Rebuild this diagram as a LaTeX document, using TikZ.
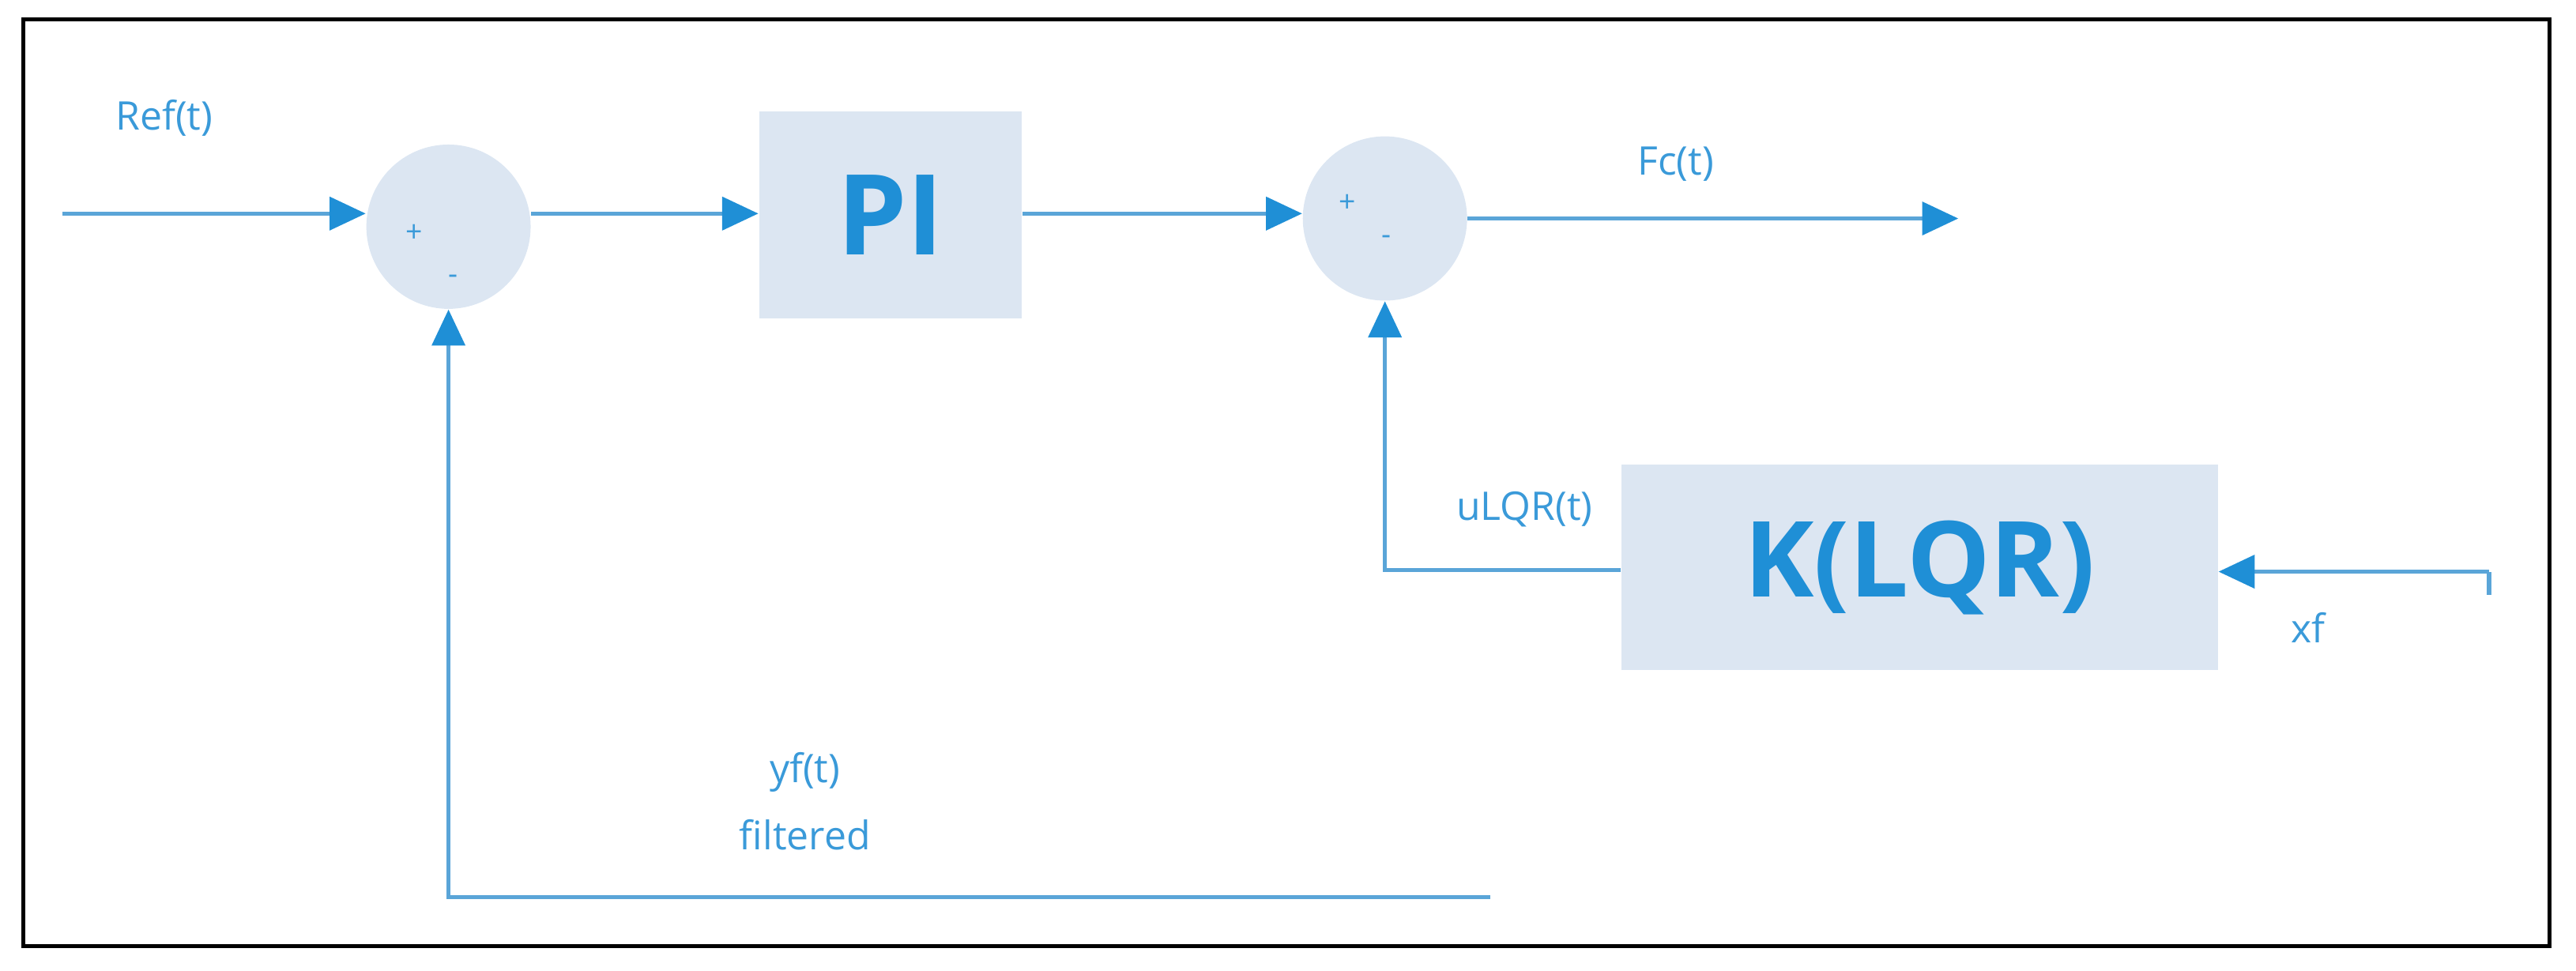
\documentclass[tikz,border=0pt]{standalone}
\usepackage{fontspec}
\setmainfont{Open Sans}
\usetikzlibrary{arrows.meta}
\definecolor{ln}{HTML}{5AA5D8}
\definecolor{ar}{HTML}{1F8FD6}
\definecolor{bx}{HTML}{DCE6F2}
\definecolor{tx}{HTML}{3A9AD9}
\begin{document}
\begin{tikzpicture}[x=0.5pt,y=-0.5pt,
  wire/.style={draw=ln,line width=1.3pt},
  arr/.style={wire,-{Triangle[length=11pt,width=10pt,fill=ar,color=ar]}},
  sum/.style={circle,fill=bx,minimum size=50pt,inner sep=0pt},
  blk/.style={fill=bx,inner sep=0pt,text=ar,font=\bfseries},
  lab/.style={text=tx,font=\fontsize{12}{14}\selectfont,inner sep=0pt},
  sg/.style={text=tx,font=\fontsize{9}{10}\selectfont,inner sep=0pt}]
\useasboundingbox (0,0) rectangle (1568,591);
\draw[black,line width=1.2pt] (14,12) rectangle (1552,576);
\node[sum] (s1) at (273,138) {};
\node[sum] (s2) at (843,133) {};
\node[blk,minimum width=80pt,minimum height=63pt,font=\bfseries\fontsize{34}{36}\selectfont] (pi) at (542,131) {PI};
\node[blk,minimum width=181.5pt,minimum height=62.5pt,font=\bfseries\fontsize{32}{34}\selectfont] (k) at (1168.5,345.5) {K(LQR)};
\node[sg] at (252,142) {+};
\node[sg] at (276,170) {-};
\node[sg] at (820,124) {+};
\node[sg] at (844,146) {-};
\coordinate (in) at (38,130);
\coordinate (out) at (1192,133);
\coordinate (xs) at (1515,348);
\coordinate (fb) at (907,546);
\draw[arr] (in) -- (s1.west |- in);
\draw[arr] (s1.east |- 0,130) -- (pi.west |- 0,130);
\draw[arr] (pi.east |- 0,130) -- (s2.west |- 0,130);
\draw[arr] (s2.east) -- (out);
\draw[wire] (1515,362) -- (xs);
\draw[arr] (xs) -- (k.east |- xs);
\draw[arr] (k.west |- 0,347) -| (s2.south);
\draw[arr] (fb) -| (s1.south);
\node[lab] at (100,72) {Ref(t)};
\node[lab] at (1020,100) {Fc(t)};
\node[lab] at (928,310) {uLQR(t)};
\node[lab] at (1405,382) {xf};
\node[lab] at (490,470) {yf(t)};
\node[lab] at (490,508) {filtered};
\end{tikzpicture}
\end{document}
